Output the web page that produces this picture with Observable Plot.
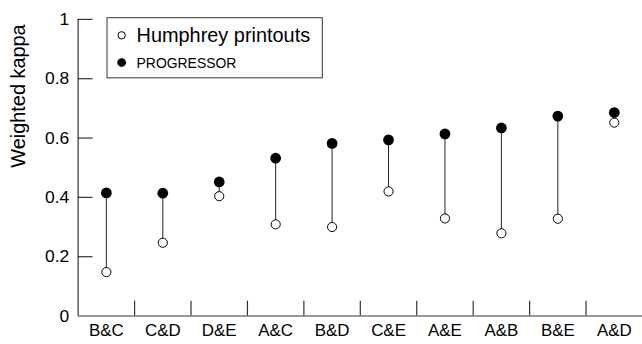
<!DOCTYPE html>
<html>
<head>
<meta charset="utf-8">
<script src="https://cdn.jsdelivr.net/npm/d3@7"></script>
<script src="https://cdn.jsdelivr.net/npm/@observablehq/plot@0.6"></script>
<style>
  html, body { margin: 0; padding: 0; background: #fff; overflow: hidden; }
  #chart { width: 642px; height: 344px; overflow: hidden; }
</style>
</head>
<body>
<div id="chart"></div>
<script>
// Data
const categories = ["B&C", "C&D", "D&E", "A&C", "B&D", "C&E", "A&E", "A&B", "B&E", "A&D"];
const humphrey = [0.148, 0.247, 0.404, 0.309, 0.300, 0.420, 0.329, 0.279, 0.328, 0.652];
const progressor = [0.415, 0.414, 0.452, 0.532, 0.582, 0.594, 0.614, 0.634, 0.674, 0.686];
const yTicks = [0, 0.2, 0.4, 0.6, 0.8, 1];
const yTickLabels = ["0", "0.2", "0.4", "0.6", "0.8", "1"];
const seriesNames = ["Humphrey printouts", "PROGRESSOR"];
const yTitle = "Weighted kappa";

const rows = categories.map((c, i) => ({cat: c, h: humphrey[i], p: progressor[i]}));

const W = 645, ML = 78, MR = 0, MT = 19, MB = 27;
const bw = (W - ML - MR) / categories.length;
const axisColor = "#333";

const chart = Plot.plot({
  width: W,
  height: 344,
  marginLeft: ML,
  marginRight: MR,
  marginTop: MT,
  marginBottom: MB,
  style: {fontFamily: "'Liberation Sans', Arial, sans-serif", background: "white", color: "black"},
  x: {type: "band", domain: categories, padding: 0, round: false, label: null},
  y: {domain: [0, 1], label: null},
  marks: [
    // axes
    Plot.axisX({tickSize: 0, tickPadding: 8, fontSize: 17, label: null}),
    Plot.axisY({ticks: yTicks, tickSize: 0, tickPadding: 9, fontSize: 17.5, label: null,
      tickFormat: (d) => yTickLabels[yTicks.indexOf(d)]}),
    Plot.ruleY([0], {stroke: axisColor, strokeWidth: 1.2}),
    Plot.ruleX([categories[0]], {y1: 0, y2: 1, dx: -bw / 2, stroke: axisColor, strokeWidth: 1.2}),
    Plot.ruleX(categories.slice(1), {x: d => d, y1: 0, y2: 0.05, dx: -bw / 2, stroke: axisColor, strokeWidth: 1.2}),
    Plot.tickY(yTicks.slice(1), {y: d => d, x: () => categories[0], insetRight: bw - 15, stroke: axisColor, strokeWidth: 1.2}),
    // axis title
    Plot.text([yTitle], {frameAnchor: "left", dx: -59.5, rotate: -90, fontSize: 20, fill: "black"}),
    // stems
    Plot.ruleX(rows, {x: "cat", y1: "h", y2: "p", stroke: "#222", strokeWidth: 1}),
    // points
    Plot.dot(rows, {x: "cat", y: "h", r: 4.6, fill: "white", stroke: "black", strokeWidth: 1}),
    Plot.dot(rows, {x: "cat", y: "p", r: 5.4, fill: "black"}),
    // legend
    Plot.frame({insetLeft: 29, insetTop: -1.7, insetRight: W - 323.3, insetBottom: 317 - 77.7, stroke: axisColor, strokeWidth: 1}),
    Plot.dot([seriesNames[0]], {frameAnchor: "top-left", dx: 43.7, dy: 16, r: 3.7, fill: "white", stroke: "black", strokeWidth: 1}),
    Plot.dot([seriesNames[1]], {frameAnchor: "top-left", dx: 43.7, dy: 43.3, r: 4.4, fill: "black"}),
    Plot.text([seriesNames[0]], {frameAnchor: "top-left", dx: 58.7, dy: 16.6, textAnchor: "start", lineAnchor: "middle", fontSize: 20, fill: "black"}),
    Plot.text([seriesNames[1]], {frameAnchor: "top-left", dx: 58.7, dy: 44.3, textAnchor: "start", lineAnchor: "middle", fontSize: 14, fill: "black"})
  ]
});
document.getElementById("chart").appendChild(chart);
</script>
</body>
</html>
